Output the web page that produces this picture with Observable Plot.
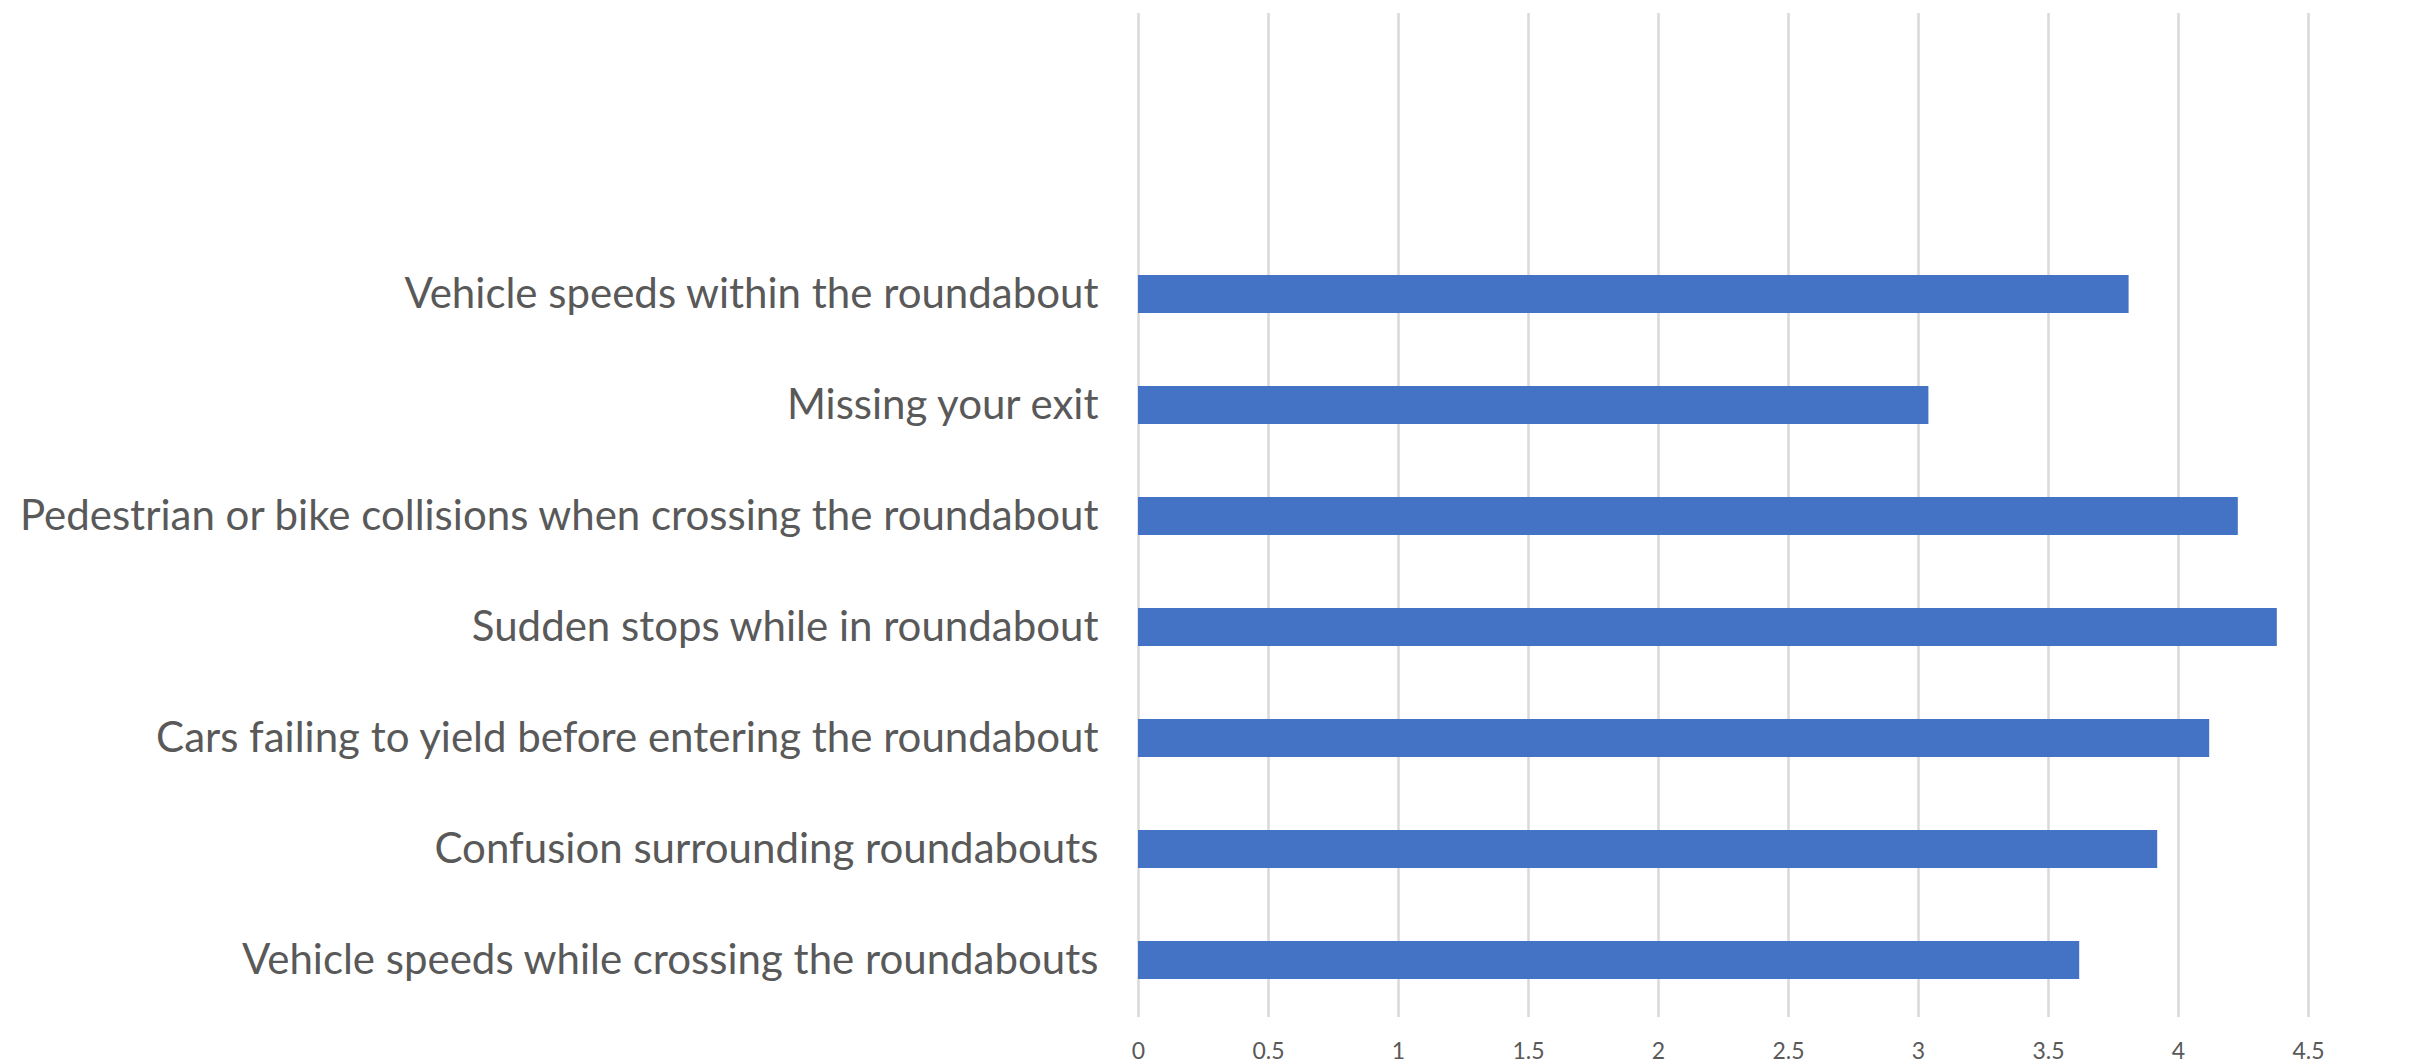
<!DOCTYPE html>
<html>
<head>
<meta charset="utf-8">
<script src="https://cdn.jsdelivr.net/npm/d3@7"></script>
<script src="https://cdn.jsdelivr.net/npm/@observablehq/plot@0.6"></script>
<style>
  html, body { margin: 0; padding: 0; background: #ffffff; }
  #chart svg { display: block; }
</style>
</head>
<body>
<div id="chart"></div>
<script>
const categories = [
  "Vehicle speeds within the roundabout",
  "Missing your exit",
  "Pedestrian or bike collisions when crossing the roundabout",
  "Sudden stops while in roundabout",
  "Cars failing to yield before entering the roundabout",
  "Confusion surrounding roundabouts",
  "Vehicle speeds while crossing the roundabouts"
];
const values = [3.81, 3.04, 4.23, 4.38, 4.12, 3.92, 3.62];
const xTicks = [0, 0.5, 1, 1.5, 2, 2.5, 3, 3.5, 4, 4.5];

const data = categories.map((c, i) => ({category: c, value: values[i]}));

const chart = Plot.plot({
  width: 2420,
  height: 1064,
  marginLeft: 1138,
  marginRight: 112,
  marginTop: 13,
  marginBottom: 47,
  style: {fontFamily: "Lato, 'Open Sans', sans-serif", color: "#595959", background: "#ffffff"},
  x: {domain: [0, 4.5], axis: null, label: null},
  y: {domain: categories, range: [236, 1017.5], paddingInner: 0.66, paddingOuter: 0.33, axis: null, label: null},
  marks: [
    Plot.gridX(xTicks, {stroke: "#D9D9D9", strokeOpacity: 1, strokeWidth: 2.5}),
    Plot.barX(data, {x: "value", y: "category", fill: "#4472C4"}),
    Plot.axisX(xTicks, {tickSize: 0, tickPadding: 25, fontSize: 23, fill: "#595959", label: null, tickFormat: d => String(d)}),
    Plot.axisY(categories, {tickSize: 0, tickPadding: 40, fontSize: 42, fill: "#595959", label: null})
  ]
});

document.getElementById("chart").appendChild(chart);
</script>
</body>
</html>
